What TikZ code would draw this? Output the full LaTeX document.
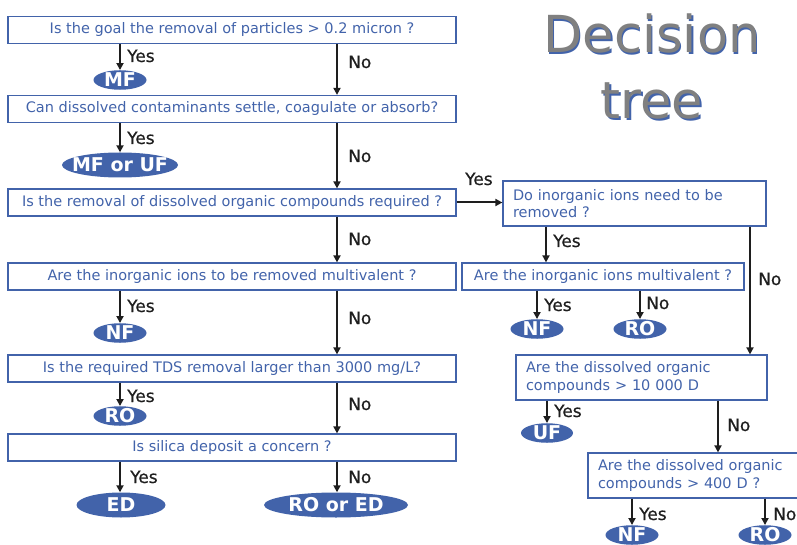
\documentclass[tikz,border=0pt]{standalone}
\usepackage{fontspec}
\setmainfont{DejaVu Sans}
\newfontfamily\ansfont{DejaVu Sans}[FakeBold=0.6]
\usetikzlibrary{shapes.geometric,arrows.meta}

\definecolor{dblue}{RGB}{66,99,170}
\definecolor{tgray}{RGB}{128,128,128}
\definecolor{adark}{RGB}{30,30,30}

% outcome labels are allowed to spill out of their ellipse
\newcommand{\olab}[1]{\makebox[0pt]{#1}}

\tikzset{
  qbox/.style={draw=dblue, line width=1.2pt, text=dblue, font=\fontsize{14.5}{17.5}\selectfont, inner sep=0pt},
  qleft/.style={qbox, minimum width=448pt, minimum height=27pt},
  qright/.style={qbox, align=left, inner xsep=10pt, minimum height=45pt},
  outcome/.style={ellipse, fill=dblue, text=white, font=\bfseries\fontsize{19}{19}\selectfont, inner sep=0pt, minimum width=53pt, minimum height=19pt, text height=13.8pt, text depth=0pt},
  ans/.style={text=adark, font=\ansfont\fontsize{17}{17}\selectfont, inner sep=0pt, anchor=base west},
  title/.style={font=\fontsize{51}{51}\selectfont, text=tgray, anchor=base, inner sep=0pt},
  flow/.style={->, adark, line width=2pt},
  >={Triangle[length=7pt,width=7pt]}
}

\begin{document}
\begin{tikzpicture}[x=1pt,y=-1pt]
    \clip (0,0) rectangle (797,545);

    % title
    \foreach \w/\yb in {Decision/53,tree/119} {
      \node[title, text=dblue] (ts-\w) at (653.5,\yb+1.5) {\w};
      \node[title] (t-\w) at (652,\yb) {\w};
    }

    % main column
    \node[qleft] (q1) at (232,30) {Is the goal the removal of particles > 0.2 micron ?};
    \node[qleft] (q2) at (232,109) {Can dissolved contaminants settle, coagulate or absorb?};
    \node[qleft] (q3) at (232,202.5) {Is the removal of dissolved organic compounds required ?};
    \node[qleft] (q4) at (232,276.5) {Are the inorganic ions to be removed multivalent ?};
    \node[qleft] (q5) at (232,368.5) {Is the required TDS removal larger than 3000 mg/L?};
    \node[qleft] (q6) at (232,447.5) {Is silica deposit a concern ?};

    \node[outcome] (mf) at (120,80) {\olab{MF}};
    \node[outcome, minimum width=116pt, minimum height=25pt] (mfuf) at (120,165) {\olab{MF or UF}};
    \node[outcome] (nf1) at (120,333) {\olab{NF}};
    \node[outcome] (ro1) at (120,416) {\olab{RO}};
    \node[outcome, minimum width=89pt, minimum height=25pt] (ed) at (121,505) {\olab{ED}};
    \node[outcome, minimum width=144pt, minimum height=25pt] (rored) at (336,505) {\olab{RO or ED}};

    \coordinate (nocol) at (337,0);

    \draw[flow] (q1.south -| mf) -- (mf.north);
    \draw[flow] (q1.south -| nocol) -- (q2.north -| nocol);
    \draw[flow] (q2.south -| mfuf) -- (mfuf.north);
    \draw[flow] (q2.south -| nocol) -- (q3.north -| nocol);
    \draw[flow] (q3.south -| nocol) -- (q4.north -| nocol);
    \draw[flow] (q4.south -| nf1) -- (nf1.north);
    \draw[flow] (q4.south -| nocol) -- (q5.north -| nocol);
    \draw[flow] (q5.south -| ro1) -- (ro1.north);
    \draw[flow] (q5.south -| nocol) -- (q6.north -| nocol);
    \draw[flow] (q6.south -| mfuf) -- (ed.north -| mfuf);
    \draw[flow] (q6.south -| nocol) -- (rored.north -| nocol);

    \node[ans] (y1) at (127,62) {Yes};
    \node[ans] (n1) at (348,68) {No};
    \node[ans] (y2) at (127,144) {Yes};
    \node[ans] (n2) at (348,162) {No};
    \node[ans] (n3) at (348,245) {No};
    \node[ans] (y4) at (127,312) {Yes};
    \node[ans] (n4) at (348,324) {No};
    \node[ans] (y5) at (127,402) {Yes};
    \node[ans] (n5) at (348,410) {No};
    \node[ans] (y6) at (130,483) {Yes};
    \node[ans] (n6) at (348,483) {No};

    % organic branch
    \node[qright, text width=243pt] (r1) at (634.5,203.5) {Do inorganic ions need to be\\removed ?};
    \node[qbox, minimum width=282pt, minimum height=27pt] (r2) at (603,276.5) {Are the inorganic ions multivalent ?};
    \node[qright, text width=231pt] (r3) at (641.5,377.5) {Are the dissolved organic\\compounds > 10 000 D};
    \node[qright, text width=220pt] (r4) at (708,475.5) {Are the dissolved organic\\compounds > 400 D ?};

    \node[outcome] (nf2) at (537,329) {\olab{NF}};
    \node[outcome] (ro2) at (640,329) {\olab{RO}};
    \node[outcome, minimum width=52pt] (uf) at (547,433) {\olab{UF}};
    \node[outcome] (nf3) at (632,535) {\olab{NF}};
    \node[outcome] (ro3) at (765,535) {\olab{RO}};

    \coordinate (ryes) at (546,0);
    \coordinate (rno) at (750,0);
    \coordinate (rno2) at (718,0);

    \draw[flow] (q3.east) -- (q3.east -| r1.west);
    \draw[flow] (r1.south -| ryes) -- (r2.north -| ryes);
    \draw[flow] (r1.south -| rno) -- (r3.north -| rno);
    \draw[flow] (r2.south -| nf2) -- (nf2.north);
    \draw[flow] (r2.south -| ro2) -- (ro2.north);
    \draw[flow] (r3.south -| uf) -- (uf.north);
    \draw[flow] (r3.south -| rno2) -- (r4.north -| rno2);
    \draw[flow] (r4.south -| nf3) -- (nf3.north);
    \draw[flow] (r4.south -| ro3) -- (ro3.north);

    \node[ans] (ya) at (465,185) {Yes};
    \node[ans] (yr1) at (553,247) {Yes};
    \node[ans] (nr1) at (758,285) {No};
    \node[ans] (yr2) at (544,311) {Yes};
    \node[ans] (nr2) at (646,309) {No};
    \node[ans] (yr3) at (554,417) {Yes};
    \node[ans] (nr3) at (727,431) {No};
    \node[ans] (yr4) at (639,520) {Yes};
    \node[ans] (nr4) at (773,520) {No};
\end{tikzpicture}
\end{document}
